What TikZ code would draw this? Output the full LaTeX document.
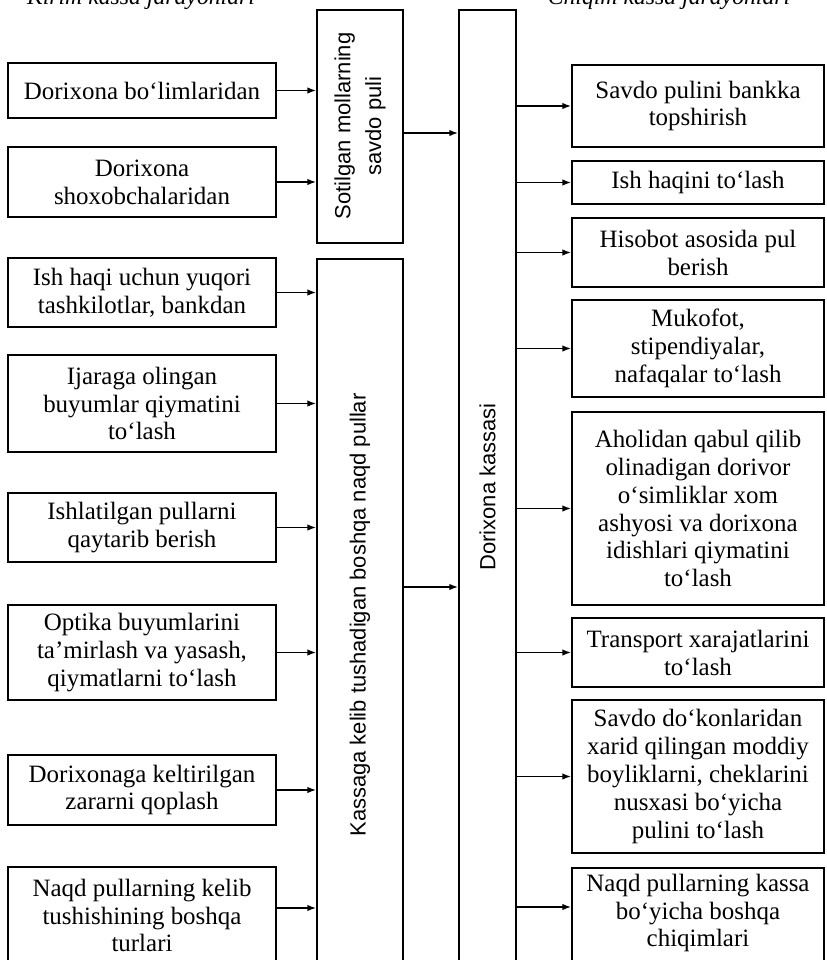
\documentclass[tikz,border=0pt]{standalone}
\usepackage{fontspec}
\setmainfont{Liberation Serif}
\setsansfont{Liberation Sans}
\usetikzlibrary{arrows.meta,fit}
\begin{document}
\begin{tikzpicture}[x=0.02cm,y=-0.02cm,
  frame/.style={draw, line width=0.85pt, inner sep=0pt},
  btext/.style={inner sep=0pt, align=center, font=\fontsize{14.2}{15.9}\selectfont},
  vtext/.style={rotate=90, inner sep=0pt, align=center, font=\sffamily\fontsize{12.5}{17.5}\selectfont},
  arr/.style={line width=0.85pt, -{Latex[length=5pt,width=3.6pt]}},
  head/.style={anchor=base, font=\itshape\fontsize{13.5}{15}\selectfont}]
\useasboundingbox (0,0) rectangle (827,960);
\clip (0,0) rectangle (827,960);
% headers (cut off at the top, as in the reference)
\node[head] (hL) at (141,5) {Kirim kassa jarayonlari};
\node[head] (hR) at (669,5) {Chiqim kassa jarayonlari};
% columns
\node[frame, fit={(317,10) (403,243)}] (colA) {};
\node[frame, fit={(317,259) (403,975)}] (colB) {};
\node[frame, fit={(459,10) (516,975)}] (colC) {};
\node[vtext] (tA) at (360,126) {Sotilgan mollarning\\savdo puli};
\node[vtext] (tB) at (360,615) {Kassaga kelib tushadigan boshqa naqd pullar};
\node[vtext] (tC) at (487.5,487) {Dorixona kassasi};
% left boxes
\node[frame, fit={(8,63) (276,118)}] (L1) {};
\node[frame, fit={(8,147) (276,217)}] (L2) {};
\node[frame, fit={(8,258) (276,327)}] (L3) {};
\node[frame, fit={(8,355) (276,452)}] (L4) {};
\node[frame, fit={(8,493) (276,562)}] (L5) {};
\node[frame, fit={(8,605) (276,700)}] (L6) {};
\node[frame, fit={(8,755) (276,825)}] (L7) {};
\node[frame, fit={(8,867) (276,967)}] (L8) {};
\node[btext] (L1t) at (L1.center) {Dorixona bo‘limlaridan};
\node[btext] (L2t) at (L2.center) {Dorixona\\shoxobchalaridan};
\node[btext] (L3t) at (L3.center) {Ish haqi uchun yuqori\\tashkilotlar, bankdan};
\node[btext] (L4t) at (L4.center) {Ijaraga olingan\\buyumlar qiymatini\\to‘lash};
\node[btext] (L5t) at (L5.center) {Ishlatilgan pullarni\\qaytarib berish};
\node[btext] (L6t) at (L6.center) {Optika buyumlarini\\ta’mirlash va yasash,\\qiymatlarni to‘lash};
\node[btext] (L7t) at (L7.center) {Dorixonaga keltirilgan\\zararni qoplash};
\node[btext] (L8t) at ([yshift=0.03cm]L8.center) {Naqd pullarning kelib\\tushishining boshqa\\turlari};
% right boxes
\node[frame, fit={(572,65) (824,147)}] (R1) {};
\node[frame, fit={(572,161) (824,204)}] (R2) {};
\node[frame, fit={(572,218) (824,287)}] (R3) {};
\node[frame, fit={(572,300) (824,397)}] (R4) {};
\node[frame, fit={(572,412) (824,605)}] (R5) {};
\node[frame, fit={(572,618) (824,687)}] (R6) {};
\node[frame, fit={(572,700) (824,853)}] (R7) {};
\node[frame, fit={(572,868) (824,966)}] (R8) {};
\node[btext] (R1t) at (R1.center) {Savdo pulini bankka\\topshirish};
\node[btext] (R2t) at (R2.center) {Ish haqini to‘lash};
\node[btext] (R3t) at (R3.center) {Hisobot asosida pul\\berish};
\node[btext] (R4t) at (R4.center) {Mukofot,\\stipendiyalar,\\nafaqalar to‘lash};
\node[btext] (R5t) at (R5.center) {Aholidan qabul qilib\\olinadigan dorivor\\o‘simliklar xom\\ashyosi va dorixona\\idishlari qiymatini\\to‘lash};
\node[btext] (R6t) at (R6.center) {Transport xarajatlarini\\to‘lash};
\node[btext] (R7t) at (R7.center) {Savdo do‘konlaridan\\xarid qilingan moddiy\\boyliklarni, cheklarini\\nusxasi bo‘yicha\\pulini to‘lash};
\node[btext] (R8t) at ([yshift=0.08cm]R8.center) {Naqd pullarning kassa\\bo‘yicha boshqa\\chiqimlari};
% left arrows
\draw[arr] (L1.east) -- (L1.east -| colA.west);
\draw[arr] (L2.east) -- (L2.east -| colA.west);
\foreach \n in {L3,L4,L5,L6,L7}
  \draw[arr] (\n.east) -- (\n.east -| colB.west);
\coordinate (m4) at (0,908);
\draw[arr] (L8.east |- m4) -- (colB.west |- m4);
% column to column
\coordinate (m1) at (0,133);
\coordinate (m2) at (0,587);
\draw[arr] (colA.east |- m1) -- (colC.west |- m1);
\draw[arr] (colB.east |- m2) -- (colC.west |- m2);
% right arrows
\foreach \n in {R1,R2,R3,R4,R5,R6,R7}
  \draw[arr] (colC.east |- \n.west) -- (\n.west);
\coordinate (m3) at (0,907);
\draw[arr] (colC.east |- m3) -- (R8.west |- m3);
\end{tikzpicture}
\end{document}
